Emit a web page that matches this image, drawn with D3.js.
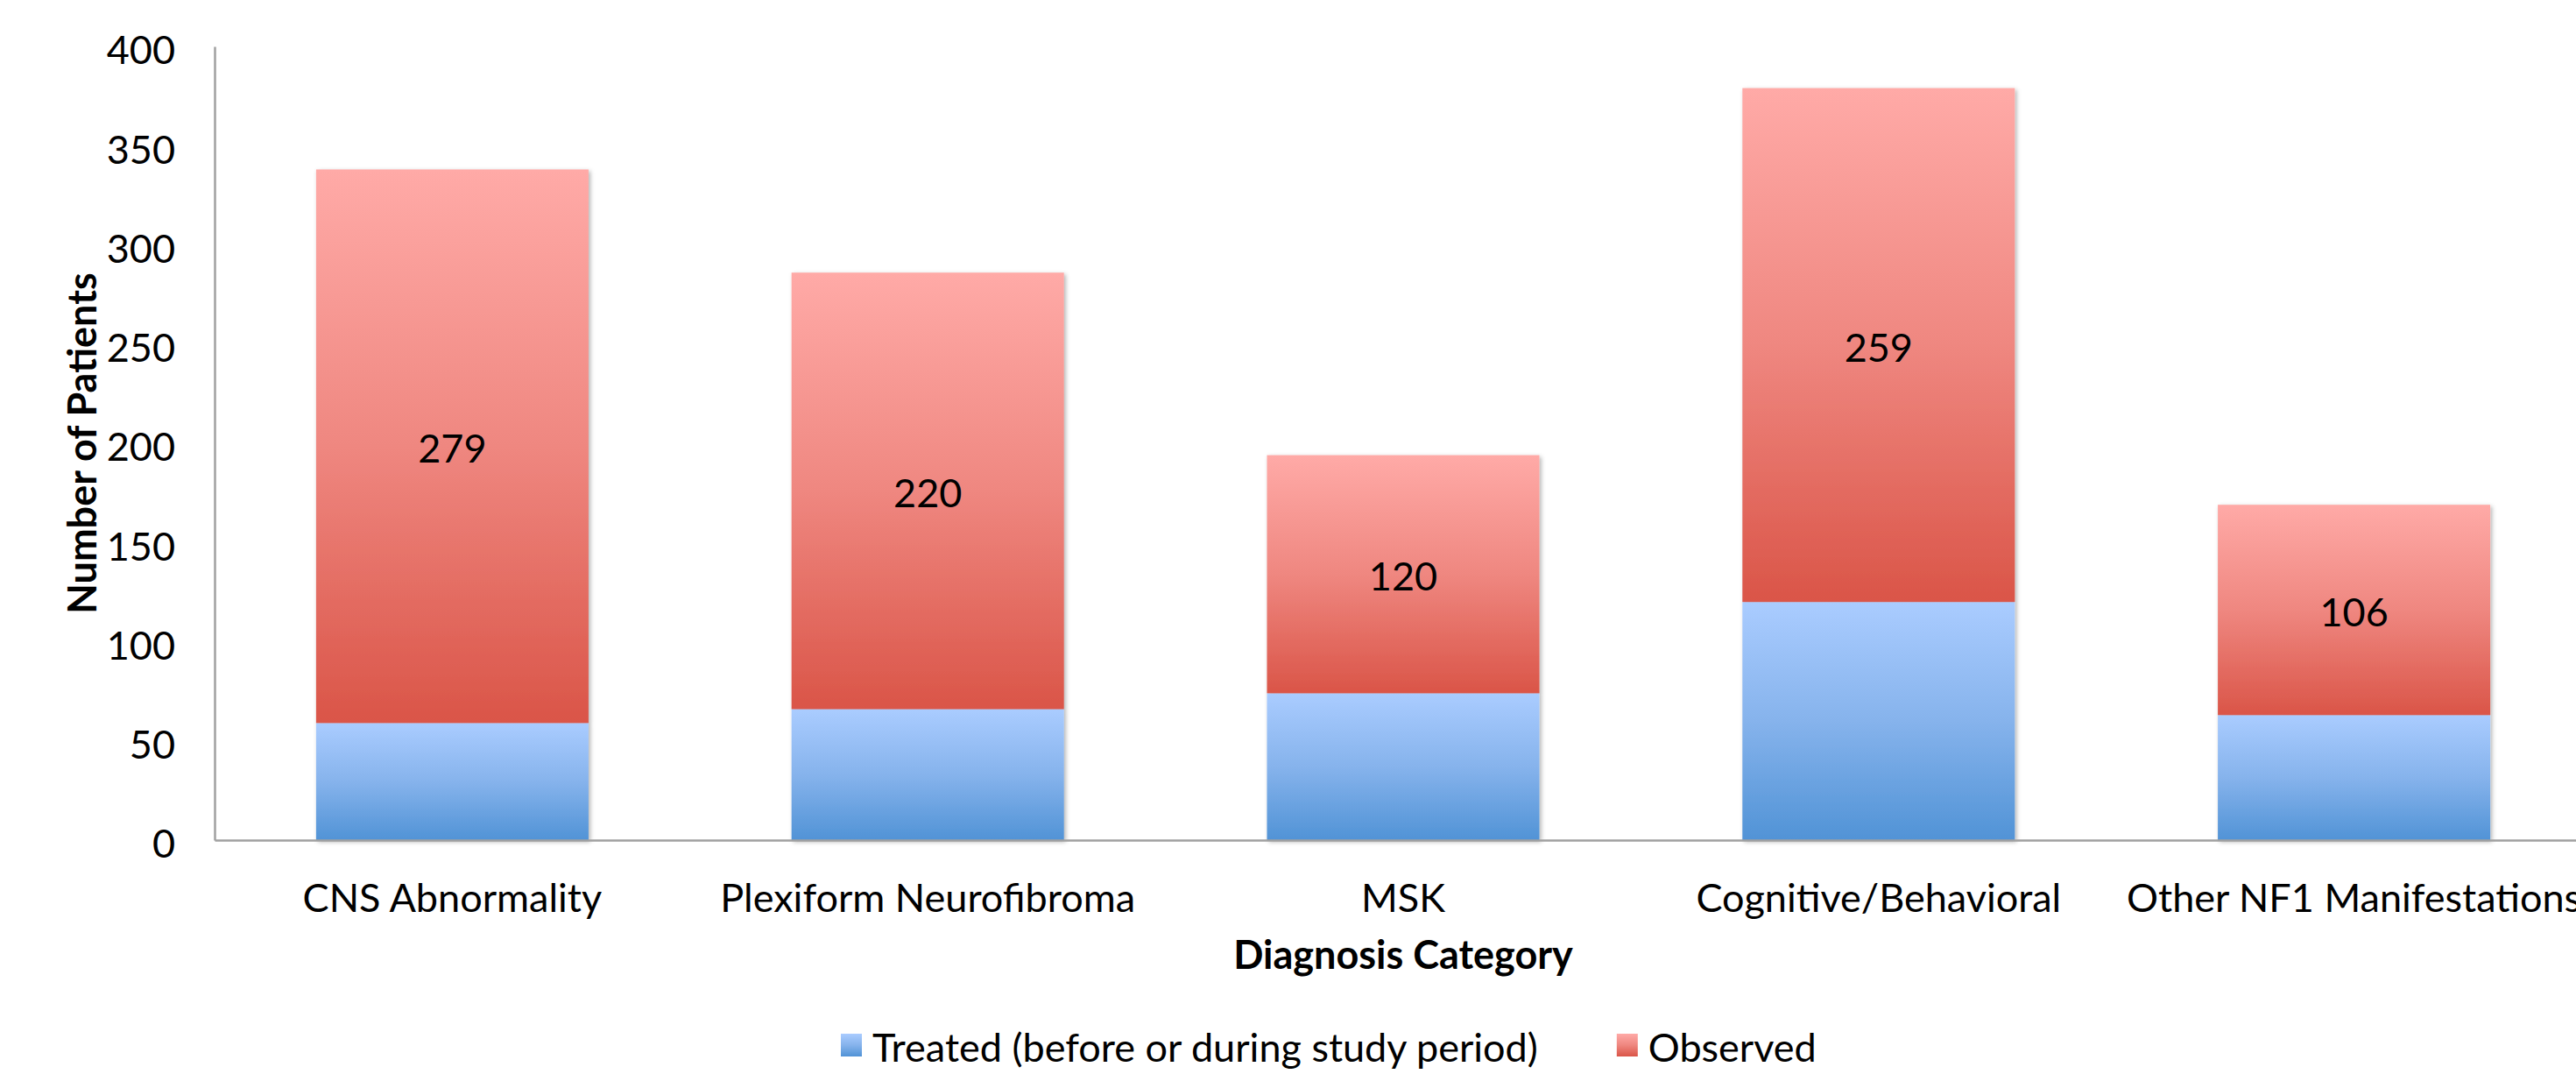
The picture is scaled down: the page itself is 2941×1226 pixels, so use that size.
<!DOCTYPE html>
<html>
<head>
<meta charset="utf-8">
<script src="https://cdn.jsdelivr.net/npm/d3@7"></script>
<style>
  html, body { margin: 0; padding: 0; background: #ffffff; }
  svg { display: block; font-family: Lato, "Open Sans", sans-serif; }
</style>
</head>
<body>
<svg id="chart" width="2941" height="1226"></svg>
<script>
// Diagnosis categories and patient counts per group
const categories = ["CNS Abnormality", "Plexiform Neurofibroma", "MSK", "Cognitive/Behavioral", "Other NF1 Manifestations"];
const treated = [59, 66, 74, 120, 63];
const observed = [279, 220, 120, 259, 106];
const seriesNames = ["Treated (before or during study period)", "Observed"];
const yTicks = [0, 50, 100, 150, 200, 250, 300, 350, 400];

const svg = d3.select("#chart");
const FS = 45;

const margin = { left: 245, top: 53, bottom: 959 };
const x = d3.scaleBand()
  .domain(categories)
  .range([margin.left, 2959])
  .paddingInner(0.427)
  .paddingOuter(0.2135);
const y = d3.scaleLinear().domain([0, 400]).range([margin.bottom, margin.top]);

// Gradients and shadow
const defs = svg.append("defs");
const grads = [
  { id: "gTreated", stops: [["0%", "#aaccff"], ["50%", "#86b3ec"], ["100%", "#5193d6"]] },
  { id: "gObserved", stops: [["0%", "#ffaaa7"], ["50%", "#ef8780"], ["100%", "#da5548"]] }
];
grads.forEach(g => {
  const lg = defs.append("linearGradient").attr("id", g.id)
    .attr("x1", 0).attr("y1", 0).attr("x2", 0).attr("y2", 1);
  g.stops.forEach(s => lg.append("stop").attr("offset", s[0]).attr("stop-color", s[1]));
});
const f = defs.append("filter").attr("id", "shadow")
  .attr("x", "-5%").attr("y", "-5%").attr("width", "115%").attr("height", "115%");
f.append("feDropShadow").attr("dx", 2).attr("dy", 2).attr("stdDeviation", 2.5)
  .attr("flood-color", "#000").attr("flood-opacity", 0.3);

// Stacked data
const rows = categories.map((c, i) => ({ category: c, treated: treated[i], observed: observed[i] }));
const stack = d3.stack().keys(["treated", "observed"]);
const layers = stack(rows);
const fills = ["url(#gTreated)", "url(#gObserved)"];

// Bars (shadow drawn on the whole stack)
const barG = svg.append("g");
categories.forEach((c, i) => {
  const g = barG.append("g").attr("filter", "url(#shadow)");
  layers.forEach((layer, k) => {
    const d = layer[i];
    g.append("rect")
      .attr("x", x(c))
      .attr("y", y(d[1]))
      .attr("width", x.bandwidth())
      .attr("height", y(d[0]) - y(d[1]))
      .attr("fill", fills[k]);
  });
});

// Observed value labels, centred in the observed segment
const obsLayer = layers[1];
svg.append("g").selectAll("text")
  .data(obsLayer)
  .join("text")
  .attr("x", (d, i) => x(categories[i]) + x.bandwidth() / 2)
  .attr("y", d => (y(d[0]) + y(d[1])) / 2)
  .attr("dy", "0.42em")
  .attr("text-anchor", "middle")
  .attr("font-size", FS)
  .attr("fill", "#000")
  .text((d, i) => observed[i]);

// Y axis
const yAxis = svg.append("g")
  .attr("transform", `translate(${margin.left},0)`)
  .call(d3.axisLeft(y).tickValues(yTicks).tickSize(0).tickPadding(45));
yAxis.select(".domain").attr("stroke", "#a0a0a0").attr("stroke-width", 2.5);
yAxis.selectAll("text").attr("font-size", FS).attr("fill", "#000")
  .attr("dy", "0.44em")
  .attr("font-family", "Lato, 'Open Sans', sans-serif");

// X axis
const xAxis = svg.append("g")
  .attr("transform", `translate(0,${margin.bottom})`)
  .call(d3.axisBottom(x).tickSize(0).tickPadding(50));
xAxis.select(".domain").attr("stroke", "#a0a0a0").attr("stroke-width", 2.5);
xAxis.selectAll("text").attr("font-size", FS).attr("fill", "#000")
  .attr("font-family", "Lato, 'Open Sans', sans-serif");

// Axis titles
svg.append("text")
  .attr("transform", `translate(94,${(margin.top + margin.bottom) / 2}) rotate(-90)`)
  .attr("text-anchor", "middle")
  .attr("dy", "0.35em")
  .attr("font-size", FS)
  .attr("font-weight", "bold")
  .text("Number of Patients");

svg.append("text")
  .attr("x", (x.range()[0] + x.range()[1]) / 2)
  .attr("y", 1106)
  .attr("text-anchor", "middle")
  .attr("font-size", FS)
  .attr("font-weight", "bold")
  .text("Diagnosis Category");

// Legend
const legend = svg.append("g");
let lx = 960;
seriesNames.forEach((name, k) => {
  legend.append("rect")
    .attr("x", lx).attr("y", 1180)
    .attr("width", 24).attr("height", 26)
    .attr("fill", fills[k]);
  const t = legend.append("text")
    .attr("x", lx + 36).attr("y", 1212)
    .attr("font-size", FS)
    .text(name);
  lx += 36 + t.node().getComputedTextLength() + 90;
});
</script>
</body>
</html>
